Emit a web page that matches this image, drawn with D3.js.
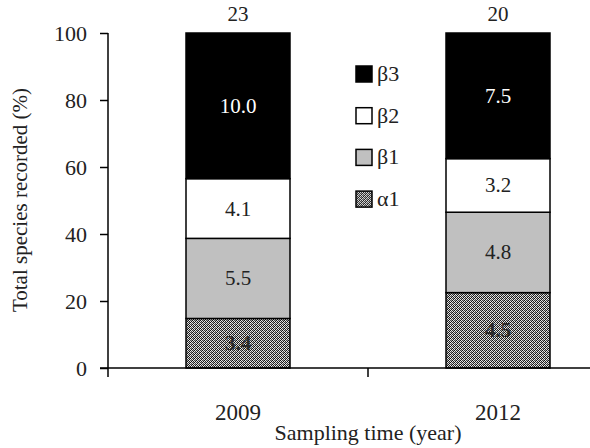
<!DOCTYPE html>
<html><head><meta charset="utf-8">
<script src="https://cdn.jsdelivr.net/npm/d3@7"></script>
<style>body{margin:0;background:#fff}svg{display:block}text{font-family:"Liberation Serif","Times New Roman",serif}</style>
</head><body><svg id="c" width="590" height="448"></svg>
<script>
const years = ["2009", "2012"];
const groups = ["α1", "β1", "β2", "β3"];
const alpha1 = [3.4, 4.5];
const beta1 = [5.5, 4.8];
const beta2 = [4.1, 3.2];
const beta3 = [10.0, 7.5];
const totals = [23, 20];
const yTicks = [0, 20, 40, 60, 80, 100];

const svg = d3.select("#c");
const defs = svg.append("defs");
const pat = defs.append("pattern").attr("id", "dots").attr("patternUnits", "userSpaceOnUse")
  .attr("width", 4).attr("height", 4);
pat.append("rect").attr("width", 4).attr("height", 4).attr("fill", "#e8e8e8");
[[0,0,"#111"],[2,0,"#444"],[1,1,"#222"],[3,1,"#111"],[0,2,"#333"],[2,2,"#111"],[1,3,"#111"],[3,3,"#444"],[3,0,"#999"],[1,2,"#aaa"]]
  .forEach(([x,y,c]) => pat.append("rect").attr("x", x).attr("y", y).attr("width", 1).attr("height", 1).attr("fill", c));

const fills = {"α1": "url(#dots)", "β1": "#c0c0c0", "β2": "#ffffff", "β3": "#000000"};
const labelColor = {"α1": "#2a2a2a", "β1": "#222", "β2": "#222", "β3": "#fff"};

const data = years.map((yr, i) => ({year: yr, "α1": alpha1[i], "β1": beta1[i], "β2": beta2[i], "β3": beta3[i], total: totals[i]}));
const pct = data.map(d => { const o = {year: d.year, total: d.total}; groups.forEach(g => o[g] = d[g] / d.total * 100); o.raw = d; return o; });

const x = d3.scaleBand().domain(years).range([108, 628]).paddingInner(0.6).paddingOuter(0.3);
const y = d3.scaleLinear().domain([0, 100]).range([368, 33]);

const stack = d3.stack().keys(groups)(pct);

const layers = svg.append("g").selectAll("g").data(stack).join("g");
layers.selectAll("rect").data(s => s.map(p => ({p, key: s.key}))).join("rect")
  .attr("x", d => x(d.p.data.year))
  .attr("width", x.bandwidth())
  .attr("y", d => y(d.p[1]))
  .attr("height", d => y(d.p[0]) - y(d.p[1]))
  .attr("fill", d => fills[d.key])
  .attr("stroke", "#000").attr("stroke-width", 1.5);

layers.selectAll("text").data(s => s.map(p => ({p, key: s.key}))).join("text")
  .attr("x", d => x(d.p.data.year) + x.bandwidth() / 2)
  .attr("y", d => (y(d.p[0]) + y(d.p[1])) / 2 + 7)
  .attr("text-anchor", "middle")
  .attr("font-size", 21)
  .attr("font-weight", d => d.key === "α1" ? "bold" : "normal")
  .attr("fill", d => labelColor[d.key])
  .text(d => d.p.data.raw[d.key].toFixed(1));

// totals on top
svg.append("g").selectAll("text").data(data).join("text")
  .attr("x", d => x(d.year) + x.bandwidth() / 2)
  .attr("y", 21)
  .attr("text-anchor", "middle").attr("font-size", 21).attr("fill", "#222")
  .text(d => d.total);

// y axis
const yAxis = d3.axisLeft(y).tickValues(yTicks).tickSize(8).tickPadding(13).tickSizeOuter(0);
const gy = svg.append("g").attr("transform", "translate(108,0)").call(yAxis);
gy.select(".domain").remove();
gy.selectAll("line").attr("stroke", "#000").attr("stroke-width", 1.5);
gy.selectAll("text").attr("font-size", 22).attr("fill", "#222").attr("font-family", "Liberation Serif");
svg.append("line").attr("x1", 108).attr("x2", 108).attr("y1", y(100)).attr("y2", y(0) + 9)
  .attr("stroke", "#000").attr("stroke-width", 1.5);

// x axis
svg.append("line").attr("x1", 100).attr("x2", 628).attr("y1", y(0)).attr("y2", y(0))
  .attr("stroke", "#000").attr("stroke-width", 1.5);
const step = x.step();
const boundary = x(years[1]) - (step - x.bandwidth()) / 2;
svg.append("line").attr("x1", boundary).attr("x2", boundary).attr("y1", y(0)).attr("y2", y(0) + 9)
  .attr("stroke", "#000").attr("stroke-width", 1.5);
svg.append("g").selectAll("text").data(years).join("text")
  .attr("x", d => x(d) + x.bandwidth() / 2).attr("y", 420)
  .attr("text-anchor", "middle").attr("font-size", 23).attr("fill", "#222").text(d => d);

svg.append("text").attr("x", 368).attr("y", 440).attr("text-anchor", "middle")
  .attr("font-size", 22).attr("fill", "#222").text("Sampling time (year)");
svg.append("text").attr("transform", "translate(27,200) rotate(-90)").attr("text-anchor", "middle")
  .attr("font-size", 21).attr("fill", "#222").text("Total species recorded (%)");

// legend
const legendOrder = ["β3", "β2", "β1", "α1"];
const lg = svg.append("g").selectAll("g").data(legendOrder).join("g")
  .attr("transform", (d, i) => `translate(356,${66 + i * 41.7})`);
lg.append("rect").attr("width", 16).attr("height", 16).attr("fill", d => fills[d])
  .attr("stroke", "#000").attr("stroke-width", 1.5);
lg.append("text").attr("x", 21).attr("y", 15).attr("font-size", 22).attr("fill", "#222").text(d => d);
</script></body></html>
